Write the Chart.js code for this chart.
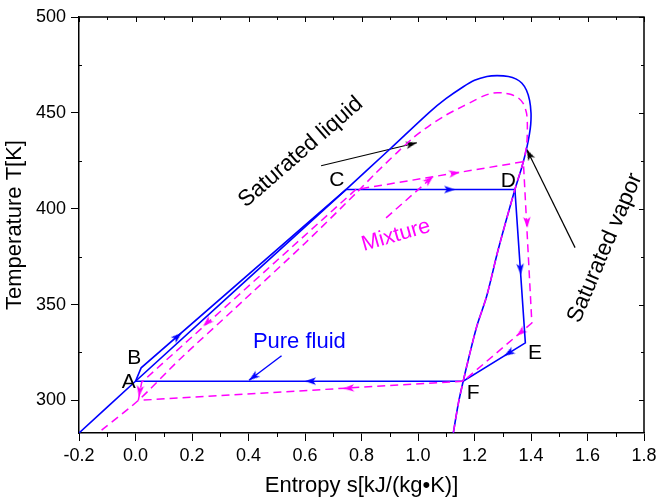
<!DOCTYPE html>
<html>
<head>
<meta charset="utf-8">
<script src="https://cdn.jsdelivr.net/npm/chart.js@4.4.1/dist/chart.umd.min.js"></script>
<style>
  html, body { margin: 0; padding: 0; background: #fff; }
  #wrap { width: 657px; height: 499px; }
</style>
</head>
<body>
<div id="wrap"><canvas id="tsChart"></canvas></div>
<script>
// axis ticks
var xTicks = [-0.2, 0, 0.2, 0.4, 0.6, 0.8, 1.0, 1.2, 1.4, 1.6, 1.8];
var xMinorTicks = [-0.1, 0.1, 0.3, 0.5, 0.7, 0.9, 1.1, 1.3, 1.5, 1.7];
var yTicks = [300, 350, 400, 450, 500];
var yMinorTicks = [325, 375, 425, 475];

// pure fluid saturation dome
var domeS = [-0.2, 0.0, 0.745, 0.90, 1.042, 1.10, 1.159, 1.20, 1.244, 1.28, 1.32, 1.348, 1.368, 1.384, 1.395, 1.400, 1.399, 1.394, 1.386, 1.368, 1.343, 1.284, 1.243, 1.208, 1.178, 1.16, 1.143, 1.125];
var domeT = [283, 310, 410, 431, 450.5, 457.5, 463.5, 467, 469, 469.4, 469, 467.6, 465.4, 461.8, 456.5, 450, 444, 438.5, 432.4, 421.9, 410, 378.7, 354.3, 338.6, 321.2, 310, 298.6, 283];

// pure fluid cycle A-B-C-D-E-F-A
var cycleS = [0.0, 0.02, 0.745, 1.343, 1.38, 1.16, 0.0];
var cycleT = [310, 317, 410, 410, 330, 310, 310];

// mixture saturation dome
var mixDomeS = [-0.12, 0.01, 0.157, 0.352, 0.6, 0.78, 0.85, 0.924, 0.983, 1.042, 1.101, 1.16, 1.20, 1.235, 1.267, 1.30, 1.33, 1.355, 1.373, 1.384, 1.387, 1.386, 1.38, 1.373, 1.343, 1.284, 1.243, 1.208, 1.178, 1.16, 1.143, 1.125];
var mixDomeT = [284.5, 300, 321.5, 348, 382, 408, 418.5, 429, 437, 443.5, 449, 453.5, 456.5, 459, 460.4, 460.4, 459.6, 457.8, 454.8, 450, 444.8, 436, 429, 424.5, 410, 378.7, 354.3, 338.6, 321.2, 310, 298.6, 283.1];

// mixture cycle
var mixCycleS = [0.01, 0.022, 0.78, 1.373, 1.403, 1.16, 0.01];
var mixCycleT = [300, 309.5, 410, 424.5, 340.4, 310, 300];

// pointer lines (tail, tip)
var pureS = [0.517, 0.402];
var pureT = [323.3, 310.5];
var mixPtrS = [0.887, 1.054];
var mixPtrT = [395.2, 416.9];
var satLiqS = [0.657, 0.996];
var satLiqT = [422.4, 434.4];
var satVapS = [1.556, 1.385];
var satVapT = [379.7, 430.9];

// arrow heads: position and the point they head for
var blueArrowS = [0.163, 1.131, 1.364, 1.305, 0.60, 0.402];
var blueArrowT = [335.2, 410, 365.6, 323.2, 310, 310.5];
var blueToS = [0.745, 1.343, 1.38, 1.16, 0.0, 0.517];
var blueToT = [410, 410, 330, 310, 310, 323.3];
var blueFlip = [false, false, false, false, false, true];

var pinkArrowS = [0.239, 0.012, 1.148, 1.387, 1.349, 0.735, 1.054];
var pinkArrowT = [338.7, 302, 419, 390, 333.6, 306.2, 416.9];
var pinkToS = [0.022, 0.01, 1.373, 1.403, 1.16, 0.01, 0.887];
var pinkToT = [309.5, 300, 424.5, 340.4, 310, 300, 395.2];
var pinkFlip = [false, false, false, false, false, false, true];

var blackArrowS = [0.996, 1.385];
var blackArrowT = [434.4, 430.9];
var blackToS = [0.657, 1.556];
var blackToT = [422.4, 379.7];
var blackFlip = [true, true];

var BLUE = '#0000ff';
var PINK = '#ff00ff';
var FONT = 'Liberation Sans, Arial, sans-serif';

var notes = [
  { text: 'Saturated liquid', s: 0.585, t: 429.5, angle: -41, color: '#000', size: 22.5 },
  { text: 'Saturated vapor', s: 1.662, t: 379.5, angle: -67, color: '#000', size: 22.5 },
  { text: 'Mixture', s: 0.922, t: 386, angle: -16, color: PINK, size: 21.5 },
  { text: 'Pure fluid', s: 0.58, t: 330.4, angle: 0, color: BLUE, size: 22 },
  { text: 'A', s: -0.024, t: 309.5, angle: 0, color: '#000', size: 21 },
  { text: 'B', s: -0.004, t: 322, angle: 0, color: '#000', size: 21 },
  { text: 'C', s: 0.713, t: 414.7, angle: 0, color: '#000', size: 21 },
  { text: 'D', s: 1.32, t: 414.5, angle: 0, color: '#000', size: 21 },
  { text: 'E', s: 1.414, t: 324.5, angle: 0, color: '#000', size: 21 },
  { text: 'F', s: 1.195, t: 303.6, angle: 0, color: '#000', size: 21 }
];

function pts(xs, ys) {
  return xs.map(function(x, i) { return { x: x, y: ys[i] }; });
}

function makeHead(color) {
  var len = 11, half = 3.8;
  var c = document.createElement('canvas');
  c.width = 2 * len + 2;
  c.height = 2 * len + 2;
  var g = c.getContext('2d');
  var cx = len + 1, cy = len + 1;
  g.fillStyle = color;
  g.beginPath();
  g.moveTo(cx, cy);
  g.lineTo(cx - len, cy - half);
  g.lineTo(cx - len * 0.75, cy);
  g.lineTo(cx - len, cy + half);
  g.closePath();
  g.fill();
  return c;
}

function headRotation(toS, toT, flip) {
  return function(ctx) {
    if (ctx.dataIndex === undefined) return 0;
    var i = ctx.dataIndex;
    var xs = ctx.chart.scales.x, ys = ctx.chart.scales.y;
    var p = ctx.raw;
    var dx = xs.getPixelForValue(toS[i]) - xs.getPixelForValue(p.x);
    var dy = ys.getPixelForValue(toT[i]) - ys.getPixelForValue(p.y);
    var a = Math.atan2(dy, dx) * 180 / Math.PI;
    return flip[i] ? a + 180 : a;
  };
}

function lineSet(data, color, width, dash, tension) {
  return {
    data: data,
    showLine: true,
    borderColor: color,
    borderWidth: width,
    borderDash: dash || [],
    tension: tension || 0,
    pointRadius: 0,
    fill: false
  };
}

function headSet(data, color, toS, toT, flip) {
  return {
    data: data,
    showLine: false,
    pointStyle: makeHead(color),
    pointRadius: 5,
    rotation: headRotation(toS, toT, flip)
  };
}

// the plot box is fixed: drop the label overflow padding chart.js adds
function noOverflow(s) {
  s.paddingLeft = 0;
  s.paddingRight = 0;
  s.paddingTop = 0;
  s.paddingBottom = 0;
}

var framePlugin = {
  id: 'frame',
  afterDraw: function(chart) {
    var ctx = chart.ctx, a = chart.chartArea;
    var xs = chart.scales.x, ys = chart.scales.y;
    ctx.save();
    ctx.strokeStyle = '#000';
    ctx.lineWidth = 1.5;
    ctx.beginPath();
    ctx.moveTo(a.left, a.top);
    ctx.lineTo(a.right, a.top);
    ctx.lineTo(a.right, a.bottom);
    ctx.stroke();
    ctx.lineWidth = 1;
    ctx.beginPath();
    xTicks.concat(xMinorTicks).forEach(function(v) {
      var px = Math.round(xs.getPixelForValue(v)) + 0.5;
      var len = xMinorTicks.indexOf(v) >= 0 ? 3 : 5;
      ctx.moveTo(px, a.top);
      ctx.lineTo(px, a.top + len);
    });
    xMinorTicks.forEach(function(v) {
      var px = Math.round(xs.getPixelForValue(v)) + 0.5;
      ctx.moveTo(px, a.bottom);
      ctx.lineTo(px, a.bottom + 4);
    });
    yTicks.concat(yMinorTicks).forEach(function(v) {
      var py = Math.round(ys.getPixelForValue(v)) + 0.5;
      var len = yMinorTicks.indexOf(v) >= 0 ? 3 : 5;
      ctx.moveTo(a.right, py);
      ctx.lineTo(a.right - len, py);
    });
    yMinorTicks.forEach(function(v) {
      var py = Math.round(ys.getPixelForValue(v)) + 0.5;
      ctx.moveTo(a.left, py);
      ctx.lineTo(a.left + 3, py);
    });
    ctx.stroke();

    notes.forEach(function(n) {
      ctx.save();
      ctx.translate(xs.getPixelForValue(n.s), ys.getPixelForValue(n.t));
      ctx.rotate(n.angle * Math.PI / 180);
      ctx.fillStyle = n.color;
      ctx.font = n.size + 'px ' + FONT;
      ctx.textAlign = 'center';
      ctx.textBaseline = 'middle';
      ctx.fillText(n.text, 0, 0);
      ctx.restore();
    });
    ctx.restore();
  }
};

var tsChart = new Chart(document.getElementById('tsChart'), {
  type: 'scatter',
  data: {
    datasets: [
      lineSet(pts(mixDomeS, mixDomeT), PINK, 1.5, [8, 5], 0.25),
      lineSet(pts(mixCycleS, mixCycleT), PINK, 1.5, [8, 5], 0),
      lineSet(pts(mixPtrS, mixPtrT), PINK, 1.5, [8, 5], 0),
      lineSet(pts(domeS, domeT), BLUE, 1.6, null, 0.3),
      lineSet(pts(cycleS, cycleT), BLUE, 1.6, null, 0),
      lineSet(pts(pureS, pureT), BLUE, 1.4, null, 0),
      lineSet(pts(satLiqS, satLiqT), '#000', 1.2, null, 0),
      lineSet(pts(satVapS, satVapT), '#000', 1.2, null, 0),
      headSet(pts(pinkArrowS, pinkArrowT), PINK, pinkToS, pinkToT, pinkFlip),
      headSet(pts(blueArrowS, blueArrowT), BLUE, blueToS, blueToT, blueFlip),
      headSet(pts(blackArrowS, blackArrowT), '#000', blackToS, blackToT, blackFlip)
    ]
  },
  options: {
    responsive: true,
    maintainAspectRatio: false,
    animation: false,
    events: [],
    layout: { padding: { left: 0, right: 13, top: 17, bottom: 0 } },
    plugins: { legend: { display: false }, tooltip: { enabled: false } },
    scales: {
      x: {
        type: 'linear',
        min: -0.2,
        max: 1.8,
        afterBuildTicks: function(s) { s.ticks = xTicks.map(function(v) { return { value: v }; }); },
        afterFit: function(s) { s.height = 66; noOverflow(s); },
        ticks: {
          autoSkip: false,
          maxRotation: 0,
          padding: 4,
          color: '#000',
          font: { family: FONT, size: 18 },
          callback: function(v) { return Number(v).toFixed(1); }
        },
        grid: { drawOnChartArea: false, drawTicks: true, tickLength: 8, tickColor: '#000', tickWidth: 1 },
        border: { display: true, color: '#000', width: 1.5 },
        title: {
          display: true,
          text: 'Entropy s[kJ/(kg\u2022K)]',
          color: '#000',
          font: { family: FONT, size: 22 },
          padding: { top: 0, bottom: 0 }
        }
      },
      y: {
        type: 'linear',
        min: 283,
        max: 500,
        afterBuildTicks: function(s) { s.ticks = yTicks.map(function(v) { return { value: v }; }); },
        afterFit: function(s) { s.width = 79; noOverflow(s); },
        ticks: {
          padding: 5,
          color: '#000',
          font: { family: FONT, size: 18 }
        },
        grid: { drawOnChartArea: false, drawTicks: true, tickLength: 8, tickColor: '#000', tickWidth: 1 },
        border: { display: true, color: '#000', width: 1.5 },
        title: {
          display: true,
          text: 'Temperature T[K]',
          color: '#000',
          font: { family: FONT, size: 22 },
          padding: { top: 2, bottom: 0 }
        }
      }
    }
  },
  plugins: [framePlugin]
});
</script>
</body>
</html>
